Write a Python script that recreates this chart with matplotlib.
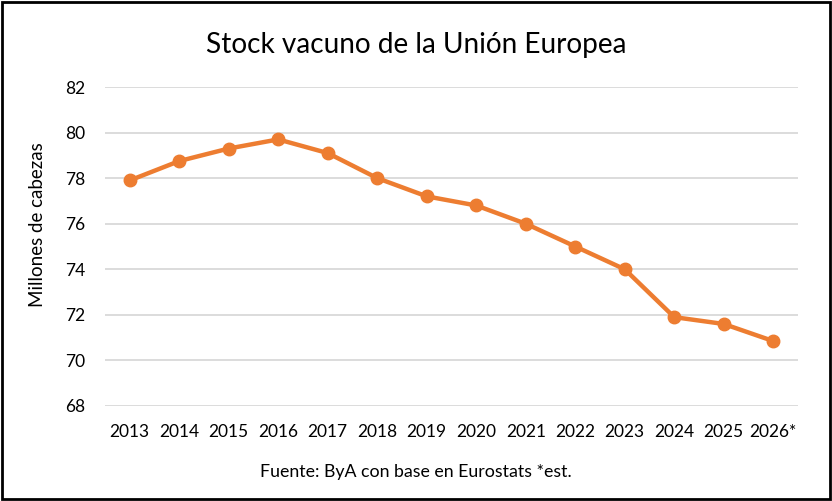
import matplotlib.pyplot as plt
from matplotlib.patches import Rectangle

plt.rcParams['font.family'] = ['Lato', 'DejaVu Sans']

years = ['2013', '2014', '2015', '2016', '2017', '2018', '2019',
         '2020', '2021', '2022', '2023', '2024', '2025', '2026*']
stock = [77.9, 78.75, 79.3, 79.7, 79.1, 78.0, 77.2,
         76.8, 76.0, 75.0, 74.0, 71.9, 71.6, 70.85]
yticks = [68, 70, 72, 74, 76, 78, 80, 82]

fig = plt.figure(figsize=(8.32, 5.01), dpi=100)
ax = fig.add_axes([105 / 832, 1 - 406 / 501, 693 / 832, 319 / 501])

x = list(range(len(years)))
ax.plot(x, stock, color='#ED7D31', linewidth=3.2, marker='o',
        markersize=9, zorder=3)

ax.set_xlim(-0.5, len(years) - 0.5)
ax.set_ylim(68, 82)
ax.set_yticks(yticks)
ax.set_xticks(x)
ax.set_xticklabels(years)
ax.grid(axis='y', color='#D9D9D9', linewidth=1.3)
ax.set_axisbelow(True)
for s in ax.spines.values():
    s.set_visible(False)
ax.tick_params(length=0, labelsize=12.5, colors='black')
ax.tick_params(axis='x', pad=13)
ax.tick_params(axis='y', pad=14)

ax.set_ylabel('Millones de cabezas', fontsize=13.5)
ax.yaxis.set_label_coords(-0.085, 0.57)

fig.text(0.5, 1 - 45 / 501, 'Stock vacuno de la Unión Europea',
         ha='center', va='center', fontsize=20.2)
fig.text(0.5, 1 - 472 / 501, 'Fuente: ByA con base en Eurostats *est.',
         ha='center', va='center', fontsize=12.8)

fig.patches.append(Rectangle((0.002, 0.003), 0.996, 0.994, transform=fig.transFigure,
                             fill=False, edgecolor='black', linewidth=2))

plt.savefig('out.png', dpi=100)
